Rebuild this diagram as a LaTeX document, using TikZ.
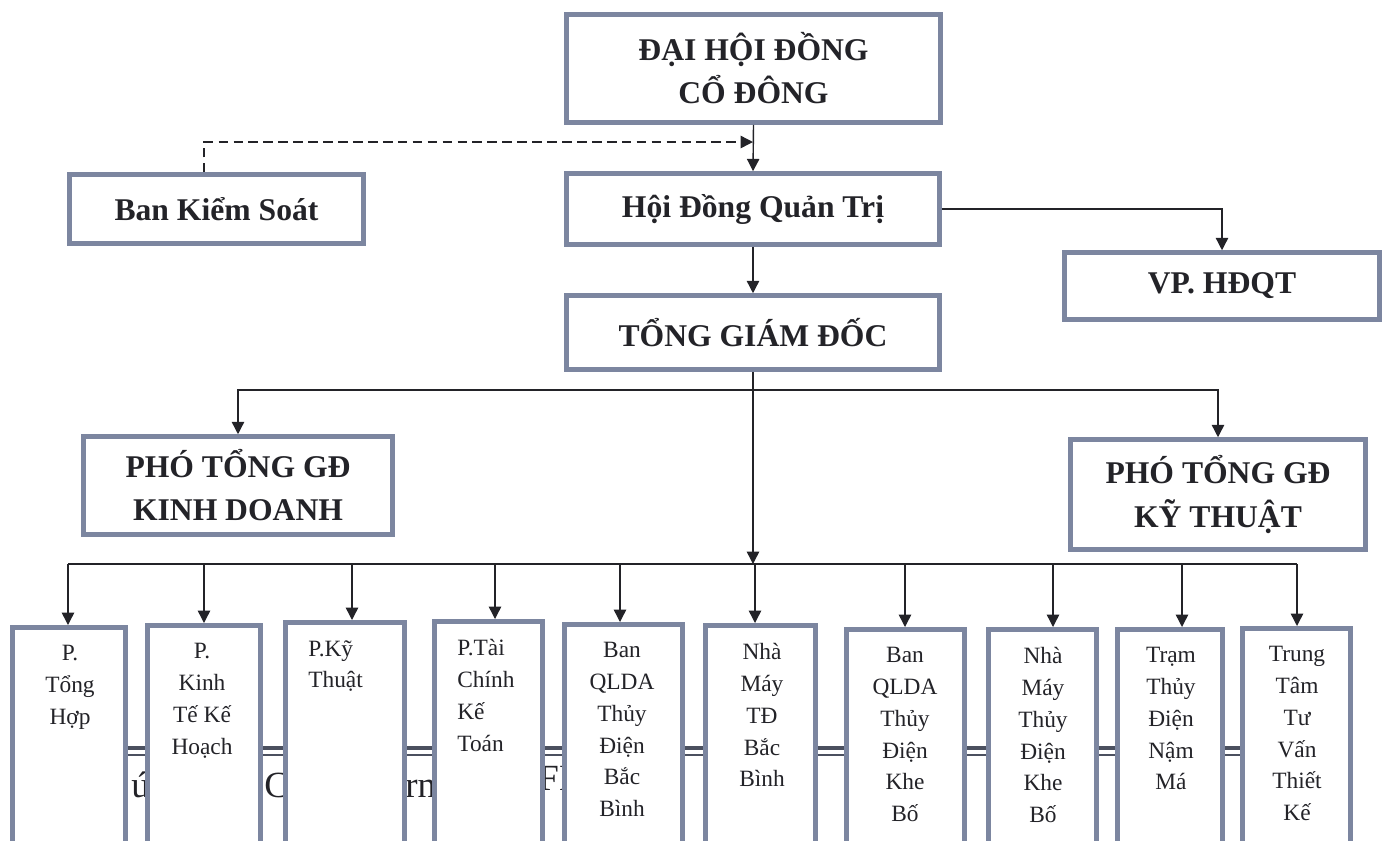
\documentclass[tikz,border=0pt]{standalone}
\usepackage{fontspec}
\setmainfont{Liberation Serif}
\usetikzlibrary{arrows.meta}
\definecolor{boxblue}{RGB}{124,134,160}
\definecolor{ink}{RGB}{35,35,40}
\definecolor{rulegray}{RGB}{75,80,95}
\tikzset{
  box/.style={draw=boxblue, line width=2.6pt, fill=white, inner sep=0pt, align=center,
    text=ink, font=\bfseries\fontsize{18}{24.5}\selectfont},
  unit/.style={draw=boxblue, line width=2.6pt, fill=white, anchor=north, minimum height=5cm},
  tc/.style={anchor=north, inner sep=0pt, align=center, text=ink, font=\fontsize{13.3}{18.1}\selectfont},
  tl/.style={anchor=north west, inner sep=0pt, align=left, text=ink, font=\fontsize{13.3}{18.1}\selectfont},
  arr/.style={draw=ink, line width=0.8pt, -{Triangle[length=7pt,width=7pt]}},
}
\begin{document}
\begin{tikzpicture}[x=0.02cm,y=-0.02cm]
\path[use as bounding box] (0,0) rectangle (1390,840);
\clip (0,0) rectangle (1390,840);

% rule of the page behind the units
\draw[rulegray, line width=2.2pt] (10,748) -- (1240,748);
\draw[rulegray, line width=0.8pt] (10,755) -- (1240,755);
\node[anchor=base west, inner sep=0pt, text=ink, font=\fontsize{21}{25}\selectfont] (f1) at (131,797) {ú};
\node[anchor=base west, inner sep=0pt, text=ink, font=\fontsize{21}{25}\selectfont] (f2) at (264,797) {C};
\node[anchor=base west, inner sep=0pt, text=ink, font=\fontsize{21}{25}\selectfont] (f3) at (405,797) {rn};
\node[anchor=base west, inner sep=0pt, text=ink, font=\fontsize{21}{25}\selectfont] (f4) at (538,790) {FI};

\node[box, minimum width=7.48cm, minimum height=2.16cm] (1) at (753.5,68.5) {ĐẠI HỘI ĐỒNG\\CỔ ĐÔNG};
\node[box, minimum width=5.88cm, minimum height=1.38cm] (2) at (216.5,209) {Ban Kiểm Soát};
\node[box, minimum width=7.46cm, minimum height=1.42cm] (3) at (753,209) {Hội Đồng Quản Trị};
\node[box, minimum width=6.30cm, minimum height=1.34cm] (4) at (1222,286) {VP. HĐQT};
\node[box, minimum width=7.46cm, minimum height=1.48cm] (5) at (753,332.5) {TỔNG GIÁM ĐỐC};
\node[box, minimum width=6.18cm, minimum height=1.96cm] (6) at (238,485.5) {PHÓ TỔNG GĐ\\KINH DOANH};
\node[box, minimum width=5.90cm, minimum height=2.20cm] (7) at (1218,494.5) {PHÓ TỔNG GĐ\\KỸ THUẬT};

\coordinate (dsh) at (204,142);
\coordinate (j1) at (753,390);
\coordinate (bus) at (753,564);

\path[draw,arr] (1.south) -- (3.north);
\path[draw,arr,dashed,dash pattern=on 5.5pt off 3pt] (2.north -| dsh) -- (dsh) -- (dsh -| 3.north);
\path[draw,arr] (3.east) -| (4.north);
\path[draw,arr] (3.south) -- (5.north);
\path[draw,arr] (5.south) -- (bus);
\path[draw,arr] (j1) -| (6.north);
\path[draw,arr] (j1) -| (7.north);

\foreach \i/\cx/\top/\w/\ax/\ts/\tx/\txt in {
  1/69/625/2.26/68/tc/70/{P.\\Tổng\\Hợp},
  2/204/623/2.26/204/tc/202/{P.\\Kinh\\Tế Kế\\Hoạch},
  3/345/620/2.38/352/tl/308/{P.Kỹ\\Thuật},
  4/488.5/619/2.16/495/tl/457/{P.Tài\\Chính\\Kế\\Toán},
  5/623.5/622/2.36/620/tc/622/{Ban\\QLDA\\Thủy\\Điện\\Bắc\\Bình},
  6/760.5/623/2.20/755/tc/762/{Nhà\\Máy\\TĐ\\Bắc\\Bình},
  7/905.5/627/2.36/905/tc/905/{Ban\\QLDA\\Thủy\\Điện\\Khe\\Bố},
  8/1042.5/627/2.16/1053/tc/1043/{Nhà\\Máy\\Thủy\\Điện\\Khe\\Bố},
  9/1170/627/2.10/1182/tc/1171/{Trạm\\Thủy\\Điện\\Nậm\\Má},
  10/1296.5/626/2.16/1297/tc/1297/{Trung\\Tâm\\Tư\\Vấn\\Thiết\\Kế}}{
  \node[unit, minimum width=\w cm] (b\i) at (\cx,\top) {};
  \node[\ts] (t\i) at (\tx,{\top+20}) {\txt};
  \coordinate (a\i) at (\ax,564);
  \path[draw,arr] (a\i) -- (a\i |- b\i.north);
}
\path[draw,ink,line width=0.8pt] (a1) -- (a10);
\end{tikzpicture}
\end{document}
